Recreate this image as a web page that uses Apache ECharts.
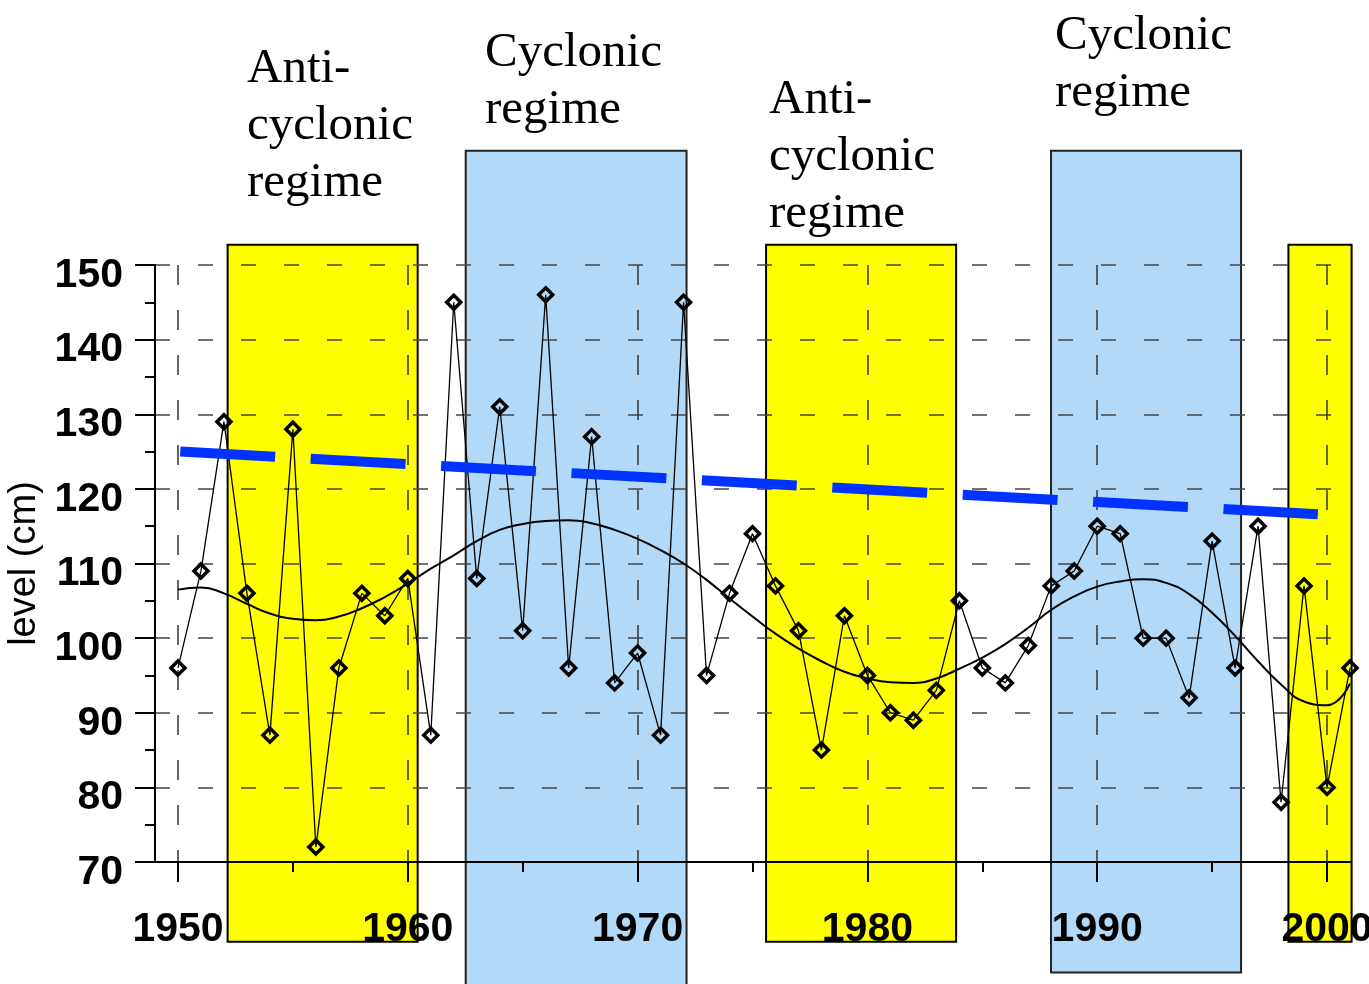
<!DOCTYPE html>
<html>
<head>
<meta charset="utf-8">
<script src="https://cdn.jsdelivr.net/npm/echarts@6/dist/echarts.min.js"></script>
<style>
  html, body { margin: 0; padding: 0; background: #fff; }
  #main { width: 1369px; height: 984px; }
</style>
</head>
<body>
<div id="main"></div>
<script>
// yearly sea level (cm)
const years = [1950,1951,1952,1953,1954,1955,1956,1957,1958,1959,1960,1961,1962,1963,1964,1965,1966,1967,1968,1969,1970,1971,1972,1973,1974,1975,1976,1977,1978,1979,1980,1981,1982,1983,1984,1985,1986,1987,1988,1989,1990,1991,1992,1993,1994,1995,1996,1997,1998,1999,2000,2001];
const level = [96,109,129,106,87,128,72,96,106,103,108,87,145,108,131,101,146,96,127,94,98,87,145,95,106,114,107,101,85,103,95,90,89,93,105,96,94,99,107,109,115,114,100,100,92,113,96,115,78,107,80,96];
// smoothed curve
const smoothLevel = [106.5,106.8,106.0,104.6,103.3,102.6,102.4,102.9,104.0,105.5,107.3,109.3,111.1,113.0,114.5,115.3,115.7,115.8,115.4,114.5,113.3,111.8,110.0,107.8,105.3,102.9,100.6,98.6,96.9,95.5,94.6,94.1,94.0,94.6,95.9,97.4,99.2,101.4,103.8,105.6,106.9,107.6,107.9,107.4,105.9,103.4,100.3,96.9,93.8,91.5,91.0,93.9];
// linear trend (start, end)
const trendYears = [1950.1, 1999.6];
const trendLevel = [125.0, 116.6];
// regime bands: start year, end year, low, high, kind
const bands = [
  [1952.16, 1960.43, 59.3, 152.7, 'anti'],
  [1962.52, 1972.13, 52.0, 165.3, 'cyc'],
  [1975.59, 1983.86, 59.3, 152.7, 'anti'],
  [1987.99, 1996.26, 55.2, 165.3, 'cyc'],
  [1998.32, 2001.07, 59.3, 152.7, 'anti']
];
const majorYears = [1950, 1960, 1970, 1980, 1990, 2000];
const minorYears = [1955, 1965, 1975, 1985, 1995];
const regimeLabels = [
  { text: 'Anti-\ncyclonic\nregime', x: 247, y: 41 },
  { text: 'Cyclonic\nregime', x: 485, y: 25 },
  { text: 'Anti-\ncyclonic\nregime', x: 769, y: 72 },
  { text: 'Cyclonic\nregime', x: 1055, y: 8 }
];

const bandColors = { anti: '#ffff00', cyc: '#b3d9f9' };
const tickFont = '"Liberation Sans", Arial, sans-serif';

let myChart = echarts.init(document.getElementById('main'));
myChart.setOption({
  animation: false,
  backgroundColor: '#ffffff',
  grid: { left: 155, right: 19, top: 265, bottom: 122, outerBoundsMode: 'none' },
  xAxis: [{
    type: 'value', min: 1949, max: 2001,
    axisLine: { lineStyle: { color: '#000', width: 2 } },
    axisTick: { customValues: majorYears, length: 20, lineStyle: { color: '#000', width: 2 } },
    axisLabel: {
      customValues: majorYears, margin: 47,
      formatter: v => String(v),
      color: '#000', fontSize: 41, fontWeight: 'bold', fontFamily: tickFont
    },
    splitLine: { show: true, lineStyle: { color: '#333', width: 1.5, type: [20, 25] } }
  }, {
    type: 'value', min: 1949, max: 2001, position: 'bottom',
    axisLine: { show: false },
    axisTick: { customValues: minorYears, length: 10, lineStyle: { color: '#000', width: 2 } },
    axisLabel: { show: false },
    splitLine: { show: false }
  }],
  yAxis: {
    type: 'value', min: 70, max: 150, interval: 10,
    name: 'level (cm)', nameLocation: 'middle', nameGap: 100,
    nameTextStyle: { color: '#000', fontSize: 38, fontFamily: '"Liberation Sans", Arial, sans-serif' },
    axisLine: { show: true, lineStyle: { color: '#000', width: 2 } },
    axisTick: { length: 20, lineStyle: { color: '#000', width: 2 } },
    minorTick: { show: true, splitNumber: 2, length: 10, lineStyle: { color: '#000', width: 2 } },
    axisLabel: {
      margin: 32, verticalAlign: 'top', lineHeight: 21,
      color: '#000', fontSize: 41, fontWeight: 'bold', fontFamily: tickFont
    },
    splitLine: { show: true, lineStyle: { color: '#444', width: 1.5, type: [15, 28] } }
  },
  graphic: regimeLabels.map(l => ({
    type: 'text', x: l.x, y: l.y, z: 10,
    style: { text: l.text, font: '49px "Liberation Serif", serif', lineHeight: 57, fill: '#000' }
  })),
  series: [
    {
      type: 'custom',
      z: -1,
      clip: false,
      encode: { x: [0, 1], y: [2, 3] },
      data: bands,
      renderItem: (params, api) => {
        const tl = api.coord([api.value(0), api.value(3)]);
        const br = api.coord([api.value(1), api.value(2)]);
        const kind = bands[params.dataIndex][4];
        return {
          type: 'rect',
          shape: { x: tl[0], y: tl[1], width: br[0] - tl[0], height: br[1] - tl[1] },
          style: { fill: bandColors[kind], stroke: kind === 'anti' ? '#000' : '#222', lineWidth: 2 }
        };
      }
    },
    {
      type: 'line',
      z: 2,
      data: years.map((y, i) => [y, smoothLevel[i]]),
      smooth: 0.5,
      symbol: 'none',
      lineStyle: { color: '#000', width: 2 }
    },
    {
      type: 'line',
      z: 3,
      clip: false,
      data: years.map((y, i) => [y, level[i]]),
      symbol: 'diamond',
      symbolSize: 14,
      lineStyle: { color: '#000', width: 1.3 },
      itemStyle: { color: 'rgba(0,0,0,0)', borderColor: '#000', borderWidth: 3.5 }
    },
    {
      type: 'line',
      z: 4,
      data: trendYears.map((y, i) => [y, trendLevel[i]]),
      symbol: 'none',
      lineStyle: { color: '#0033ff', width: 10, type: [95, 35.6], cap: 'butt' }
    }
  ]
});
</script>
</body>
</html>
